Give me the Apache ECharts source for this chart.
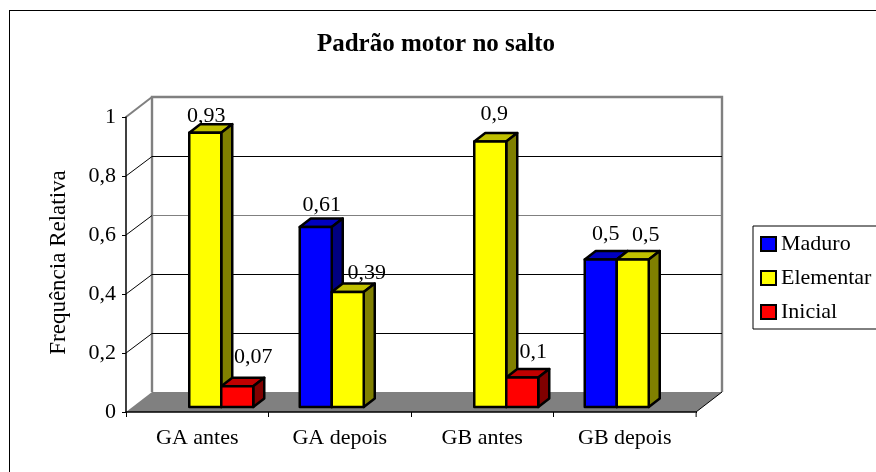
<!DOCTYPE html>
<html>
<head>
<meta charset="utf-8">
<title>Padrão motor no salto</title>
<script src="https://cdn.jsdelivr.net/npm/echarts@6/dist/echarts.min.js"></script>
<style>
  html, body { margin: 0; padding: 0; background: #fff; overflow: hidden; }
  #outerBox { position: absolute; left: 9px; top: 10px; width: 900px; height: 500px; border: 1px solid #000; }
  #main { position: absolute; left: 0; top: 0; width: 876px; height: 472px; }
</style>
</head>
<body>
<div id="outerBox"></div>
<div id="main"></div>
<script>
const categories = ['GA antes', 'GA depois', 'GB antes', 'GB depois'];
const maduro = [null, 0.61, null, 0.5];
const elementar = [0.93, 0.39, 0.9, 0.5];
const inicial = [0.07, null, 0.1, null];
const yTicks = [0, 0.2, 0.4, 0.6, 0.8, 1];

const FONT = '"Liberation Serif", "Times New Roman", serif';
const WALL_DX = 26, WALL_DY = 20;   // profundidade do fundo
const BAR_DX = 8, BAR_DY = 5;       // barras ficam no meio do piso
const TOP_DX = 11, TOP_DY = 8.5;    // profundidade da barra
const BAR_W = 32;
const GRAY = '#808080';

// rotulos movidos a mao no original: [serie][categoria] -> deslocamento a partir do topo
const labelShift = [
  [null, [6, -22], null, [5, -25]],
  [[1, -16], [19, -19], [4, -27], [13, -24.5]],
  [[16, -29], null, [11, -25], null]
];

function decimal(v) {
  return String(v).replace('.', ',');
}

function pairs(values) {
  return values.map((v, i) => [i, v]).filter(d => d[1] !== null);
}

// paredes, piso e linhas de grade
function renderFrame(params, api) {
  const r = params.coordSys;
  const v = api.value(1);
  const y = api.coord([0, v])[1];
  const x0 = r.x, x1 = r.x + r.width;
  const children = [];
  if (v === 0) {
    children.push({
      type: 'polygon',
      shape: { points: [[x0, y], [x1, y], [x1 + WALL_DX, y - WALL_DY], [x0 + WALL_DX, y - WALL_DY]] },
      style: { fill: GRAY }
    });
    children.push({
      type: 'polyline',
      shape: { points: [[x0 + WALL_DX, y - WALL_DY], [x0 + WALL_DX, r.y - WALL_DY], [x1 + WALL_DX, r.y - WALL_DY], [x1 + WALL_DX, y - WALL_DY]] },
      style: { fill: null, stroke: GRAY, lineWidth: 2.4 }
    });
    children.push({
      type: 'line',
      shape: { x1: x1, y1: y, x2: x1 + WALL_DX, y2: y - WALL_DY },
      style: { stroke: '#000', lineWidth: 1 }
    });
  } else if (v === 1) {
    children.push({
      type: 'line',
      shape: { x1: x0, y1: y, x2: x0 + WALL_DX, y2: y - WALL_DY },
      style: { stroke: GRAY, lineWidth: 2 }
    });
  } else {
    const wallY = Math.round(y - WALL_DY) + 0.5;
    children.push({
      type: 'line',
      shape: { x1: x0, y1: y, x2: x0 + WALL_DX, y2: wallY },
      style: { stroke: '#000', lineWidth: 1 }
    });
    children.push({
      type: 'line',
      shape: { x1: x0 + WALL_DX, y1: wallY, x2: x1 + WALL_DX, y2: wallY },
      style: { stroke: v === 0.6 ? GRAY : '#000', lineWidth: 1 }
    });
  }
  return { type: 'group', children: children };
}

// ultimo tick do eixo x e cinza no original
function renderLastTick(params, api) {
  const r = params.coordSys;
  const x = r.x + r.width;
  const y = api.coord([0, 0])[1];
  return {
    type: 'line',
    shape: { x1: x, y1: y + 1, x2: x, y2: y + 5 },
    style: { stroke: GRAY, lineWidth: 1.5 }
  };
}

function makeBars(seriesIndex, colors) {
  return function (params, api) {
    const cat = api.value(0);
    const v = api.value(1);
    const center = api.coord([cat, 0])[0] + BAR_DX;
    const left = center - BAR_W * 1.5 + BAR_W * seriesIndex;
    const right = left + BAR_W;
    const base = api.coord([cat, 0])[1] - BAR_DY;
    const top = api.coord([cat, v])[1] - BAR_DY;
    const shift = labelShift[seriesIndex][cat];
    const edge = { stroke: '#000', lineWidth: 2.5, lineJoin: 'round' };
    return {
      type: 'group',
      children: [
        {
          type: 'text',
          style: {
            x: (left + right) / 2 + shift[0], y: top + shift[1],
            text: decimal(v), fill: '#000', font: '22px ' + FONT,
            align: 'center', verticalAlign: 'middle'
          }
        },
        {
          type: 'polygon',
          shape: { points: [[left, top], [left + TOP_DX, top - TOP_DY], [right + TOP_DX, top - TOP_DY], [right, top]] },
          style: Object.assign({ fill: colors[1] }, edge)
        },
        {
          type: 'polygon',
          shape: { points: [[right, top], [right + TOP_DX, top - TOP_DY], [right + TOP_DX, base - TOP_DY], [right, base]] },
          style: Object.assign({ fill: colors[2] }, edge)
        },
        {
          type: 'rect',
          shape: { x: left, y: top, width: BAR_W, height: base - top },
          style: Object.assign({ fill: colors[0] }, edge)
        }
      ]
    };
  };
}

function barSeries(name, values, index, colors) {
  return {
    name: name,
    type: 'custom',
    z: 2,
    data: pairs(values),
    encode: { x: 0, y: 1 },
    itemStyle: { color: colors[0], borderColor: '#000', borderWidth: 2 },
    renderItem: makeBars(index, colors)
  };
}

const chart = echarts.init(document.getElementById('main'), null, { renderer: 'canvas' });

chart.setOption({
  animation: false,
  backgroundColor: 'transparent',
  textStyle: { fontFamily: FONT, color: '#000' },
  title: {
    text: 'Padrão motor no salto',
    left: 431,
    top: 27,
    textAlign: 'center',
    textStyle: { fontFamily: FONT, fontSize: 25, fontWeight: 'bold', color: '#000' }
  },
  grid: { left: 126, right: 180, top: 117, bottom: 60, containLabel: false },
  xAxis: {
    type: 'category',
    data: categories,
    z: 3,
    axisLine: { lineStyle: { color: '#000', width: 1.5 } },
    axisTick: { show: true, alignWithLabel: false, length: 5, lineStyle: { color: '#000' } },
    axisLabel: { fontFamily: FONT, fontSize: 22, color: '#000', margin: 15, interval: 0 }
  },
  yAxis: {
    type: 'value',
    min: 0,
    max: 1,
    interval: 0.2,
    z: 3,
    name: 'Frequência Relativa',
    nameLocation: 'middle',
    nameGap: 56,
    nameTextStyle: { fontFamily: FONT, fontSize: 23, color: '#000', padding: [0, 0, 0, 4] },
    splitLine: { show: false },
    axisLine: { show: true, lineStyle: { color: '#000', width: 1.5 } },
    axisTick: { show: true, length: 4, lineStyle: { color: '#000' } },
    axisLabel: { fontFamily: FONT, fontSize: 22, color: '#000', margin: 10, formatter: decimal }
  },
  legend: {
    left: 753,
    top: 226,
    orient: 'vertical',
    selectedMode: false,
    icon: 'rect',
    itemWidth: 15,
    itemHeight: 14,
    itemGap: 12,
    padding: [7, 40, 6, 7],
    borderColor: '#000',
    borderWidth: 1,
    backgroundColor: '#fff',
    textStyle: { fontFamily: FONT, fontSize: 22, color: '#000' },
    data: ['Maduro', 'Elementar', 'Inicial']
  },
  series: [
    {
      name: 'frame',
      type: 'custom',
      z: 1,
      data: yTicks.map(v => [0, v]),
      encode: { x: 0, y: 1 },
      renderItem: renderFrame,
      silent: true
    },
    {
      name: 'lastTick',
      type: 'custom',
      z: 4,
      data: [[0, 0]],
      encode: { x: 0, y: 1 },
      renderItem: renderLastTick,
      silent: true
    },
    barSeries('Maduro', maduro, 0, ['#0000ff', '#0000c0', '#000080']),
    barSeries('Elementar', elementar, 1, ['#ffff00', '#c0c000', '#808000']),
    barSeries('Inicial', inicial, 2, ['#ff0000', '#c00000', '#800000'])
  ]
});
</script>
</body>
</html>
